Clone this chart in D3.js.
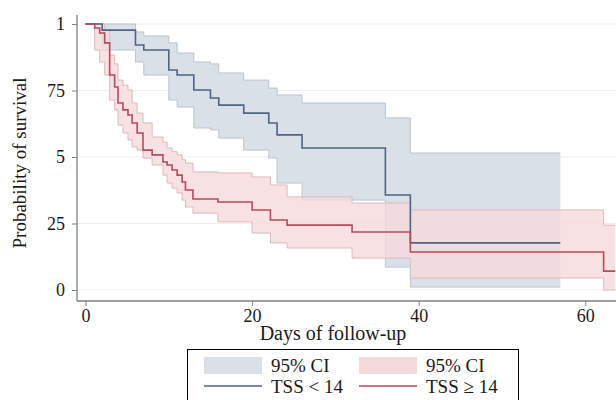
<!DOCTYPE html>
<html>
<head>
<meta charset="utf-8">
<script src="https://cdn.jsdelivr.net/npm/d3@7"></script>
<style>
  html, body { margin: 0; padding: 0; background: #fff; }
  svg { display: block; font-family: "Liberation Serif", "DejaVu Serif", serif; }
</style>
</head>
<body>
<svg id="chart" width="616" height="400"></svg>
<script>
// ---- data ----
const yTicks = [0, 0.25, 0.5, 0.75, 1];
const yTickLabels = ["0", "25", "5", "75", "1"];
const xTicks = [0, 20, 40, 60];

// TSS < 14
const blueTimes = [0, 2, 6, 7, 10, 11, 13, 15, 16, 19, 22, 23, 26, 36, 39, 57];
const blueSurv  = [1, 0.977, 0.921, 0.902, 0.827, 0.808, 0.752, 0.722, 0.695, 0.665, 0.628, 0.583, 0.534, 0.357, 0.177, 0.177];
const blueUpper = [1, 1, 0.97, 0.955, 0.929, 0.891, 0.857, 0.85, 0.816, 0.789, 0.759, 0.733, 0.703, 0.647, 0.515, 0.515];
const blueLower = [1, 0.902, 0.857, 0.808, 0.714, 0.688, 0.609, 0.602, 0.571, 0.526, 0.496, 0.402, 0.338, 0.086, 0.011, 0.011];

// TSS >= 14
const redTimes = [0, 1.1, 1.7, 2.3, 2.9, 3.5, 3.9, 4.5, 5.1, 5.6, 6.2, 6.9, 8.0, 9.3, 9.8, 10.4, 11.0, 11.6, 12.0, 12.9, 15.9, 20.0, 22.2, 24.2, 32.0, 39.0, 62.2, 63.6];
const redSurv  = [1, 0.985, 0.966, 0.929, 0.808, 0.763, 0.703, 0.677, 0.658, 0.628, 0.590, 0.526, 0.508, 0.481, 0.470, 0.451, 0.432, 0.406, 0.376, 0.342, 0.331, 0.301, 0.263, 0.244, 0.218, 0.143, 0.071, 0.071];
const redUpper = [1, 1, 1, 0.977, 0.883, 0.85, 0.789, 0.77, 0.752, 0.703, 0.665, 0.628, 0.575, 0.556, 0.534, 0.52, 0.508, 0.49, 0.477, 0.444, 0.44, 0.425, 0.395, 0.35, 0.327, 0.301, 0.244, 0.244];
const redLower = [1, 0.902, 0.857, 0.808, 0.714, 0.677, 0.620, 0.590, 0.564, 0.538, 0.526, 0.496, 0.470, 0.432, 0.402, 0.383, 0.365, 0.338, 0.312, 0.289, 0.256, 0.214, 0.177, 0.158, 0.120, 0.045, 0, 0];

const legendLabels = [["95% CI", "95% CI"], ["TSS < 14", "TSS \u2265 14"]];

// ---- styles ----
const C = {
  blueFill: "#d9e0e8", blueEdge: "#bac4cf", blueLine: "#4f6382",
  redFill: "#f5dadb", redEdge: "#dfb9bc", redLine: "#b64a5f",
  axis: "#808080", grid: "#efefef", text: "#1a1a1a"
};

const svg = d3.select("#chart");
const x = d3.scaleLinear().domain([0, 60]).range([85.5, 585.3]);
const y = d3.scaleLinear().domain([0, 1]).range([290, 24]);

const plotLeft = 77, plotRight = 616, plotBottom = 301, plotTop = 15;

// gridlines
svg.append("g").selectAll("line").data(yTicks).join("line")
  .attr("x1", plotLeft).attr("x2", plotRight)
  .attr("y1", d => y(d)).attr("y2", d => y(d))
  .attr("stroke", C.grid).attr("stroke-width", 1);

function rows(times, s, lo, hi) {
  return times.map((t, i) => ({ t, s: s[i], lo: lo[i], hi: hi[i] }));
}
const blue = rows(blueTimes, blueSurv, blueLower, blueUpper);
const red = rows(redTimes, redSurv, redLower, redUpper);

const area = d3.area().curve(d3.curveStepAfter)
  .x(d => x(d.t)).y0(d => y(d.lo)).y1(d => y(d.hi));
const lineHi = d3.line().curve(d3.curveStepAfter).x(d => x(d.t)).y(d => y(d.hi));
const lineLo = d3.line().curve(d3.curveStepAfter).x(d => x(d.t)).y(d => y(d.lo));
const lineS = d3.line().curve(d3.curveStepAfter).x(d => x(d.t)).y(d => y(d.s));

function band(data, fill, edge, op) {
  const g = svg.append("g");
  g.append("path").datum(data).attr("d", area).attr("fill", fill).attr("fill-opacity", op);
  g.append("path").datum(data).attr("d", lineHi).attr("fill", "none").attr("stroke", edge).attr("stroke-width", 1);
  g.append("path").datum(data).attr("d", lineLo).attr("fill", "none").attr("stroke", edge).attr("stroke-width", 1);
}
band(blue, C.blueFill, C.blueEdge, 1);
band(red, C.redFill, C.redEdge, 0.8);

svg.append("path").datum(blue).attr("d", lineS).attr("fill", "none")
  .attr("stroke", C.blueLine).attr("stroke-width", 1.6);
svg.append("path").datum(red).attr("d", lineS).attr("fill", "none")
  .attr("stroke", C.redLine).attr("stroke-width", 1.6);

// axes
const yAxis = d3.axisLeft(y).tickValues(yTicks)
  .tickFormat((d, i) => yTickLabels[i]).tickSize(5).tickPadding(7);
const gy = svg.append("g").attr("transform", `translate(${plotLeft},0)`).call(yAxis);
const xAxis = d3.axisBottom(x).tickValues(xTicks).tickSize(5).tickPadding(3);
const gx = svg.append("g").attr("transform", `translate(0,${plotBottom})`).call(xAxis);
[gy, gx].forEach(g => {
  g.select(".domain").remove();
  g.selectAll(".tick line").attr("stroke", C.axis);
  g.selectAll(".tick text").attr("fill", C.text)
    .style("font-family", '"Liberation Serif", serif').style("font-size", "18px");
});
svg.append("line").attr("x1", plotLeft).attr("x2", plotLeft).attr("y1", plotTop).attr("y2", plotBottom)
  .attr("stroke", C.axis).attr("stroke-width", 1.3);
svg.append("line").attr("x1", plotLeft).attr("x2", plotRight).attr("y1", plotBottom).attr("y2", plotBottom)
  .attr("stroke", C.axis).attr("stroke-width", 1.3);

// axis titles
svg.append("text").attr("x", 333).attr("y", 340).attr("text-anchor", "middle")
  .attr("fill", C.text).style("font-size", "20px").text("Days of follow-up");
svg.append("text").attr("transform", "translate(26,163) rotate(-90)").attr("text-anchor", "middle")
  .attr("fill", C.text).style("font-size", "19px").text("Probability of survival");

// legend
const lg = svg.append("g");
lg.append("rect").attr("x", 187.5).attr("y", 349.5).attr("width", 331).attr("height", 60)
  .attr("fill", "#fff").attr("stroke", "#000").attr("stroke-width", 1);
const colX = [204, 359];
const fills = [C.blueFill, C.redFill];
const lines = [C.blueLine, C.redLine];
colX.forEach((cx, i) => {
  lg.append("rect").attr("x", cx).attr("y", 357).attr("width", 58).attr("height", 17).attr("fill", fills[i]);
  lg.append("line").attr("x1", cx).attr("x2", cx + 58).attr("y1", 386).attr("y2", 386)
    .attr("stroke", lines[i]).attr("stroke-width", 1.6);
  lg.append("text").attr("x", cx + 67).attr("y", 372).attr("fill", C.text)
    .style("font-size", "19px").text(legendLabels[0][i]);
  lg.append("text").attr("x", cx + 67).attr("y", 393).attr("fill", C.text)
    .style("font-size", "19px").text(legendLabels[1][i]);
});
</script>
</body>
</html>
